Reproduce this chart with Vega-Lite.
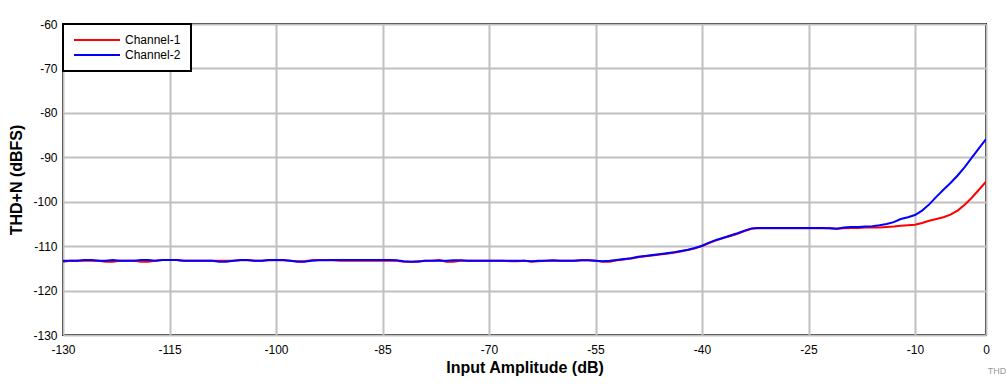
{
  "$schema": "https://vega.github.io/schema/vega-lite/v6.json",
  "autosize": {"type": "none"},
  "padding": {"left": 63, "top": 24, "right": 21, "bottom": 52},
  "width": 923,
  "height": 311,
  "background": "white",
  "title": {"text": "THD", "orient": "bottom", "anchor": "end", "fontSize": 9, "font": "Liberation Sans", "fontWeight": "normal", "color": "#999999", "dx": 17, "offset": -8},
  "config": {
    "font": "Liberation Sans",
    "view": {"stroke": "black", "strokeWidth": 2},
    "axis": {"labelFont": "Liberation Sans", "labelFontSize": 12, "labelColor": "black", "titleFont": "Liberation Sans", "titleFontSize": 16, "titleFontWeight": "bold", "titleColor": "black", "grid": true, "gridColor": "#c0c0c0", "gridWidth": 2, "ticks": false, "domain": false, "labelExpr": "'' + datum.value"},
    "legend": {"orient": "top-left", "offset": 0, "strokeColor": "black", "strokeWidth": 2, "fillColor": "white", "padding": 10, "symbolType": "M-1,0H8.2", "symbolStrokeWidth": 2, "symbolSize": 100, "labelOffset": 40, "labelFont": "Liberation Sans", "labelFontSize": 12, "labelColor": "black", "rowPadding": 3, "labelLimit": 200}
  },
  "data": {"values": [
    {"x": -130, "c1": -113.5, "c2": -113.3},
    {"x": -129, "c1": -113.3, "c2": -113.3},
    {"x": -128, "c1": -113.3, "c2": -113.3},
    {"x": -127, "c1": -113.3, "c2": -113.1},
    {"x": -126, "c1": -113.3, "c2": -113.1},
    {"x": -125, "c1": -113.3, "c2": -113.3},
    {"x": -124, "c1": -113.5, "c2": -113.3},
    {"x": -123, "c1": -113.5, "c2": -113.1},
    {"x": -122, "c1": -113.3, "c2": -113.3},
    {"x": -121, "c1": -113.3, "c2": -113.3},
    {"x": -120, "c1": -113.3, "c2": -113.3},
    {"x": -119, "c1": -113.5, "c2": -113.1},
    {"x": -118, "c1": -113.5, "c2": -113.1},
    {"x": -117, "c1": -113.3, "c2": -113.3},
    {"x": -116, "c1": -113.1, "c2": -113.1},
    {"x": -115, "c1": -113.1, "c2": -113.1},
    {"x": -114, "c1": -113.1, "c2": -113.1},
    {"x": -113, "c1": -113.3, "c2": -113.3},
    {"x": -112, "c1": -113.3, "c2": -113.3},
    {"x": -111, "c1": -113.3, "c2": -113.3},
    {"x": -110, "c1": -113.3, "c2": -113.3},
    {"x": -109, "c1": -113.3, "c2": -113.3},
    {"x": -108, "c1": -113.3, "c2": -113.5},
    {"x": -107, "c1": -113.3, "c2": -113.5},
    {"x": -106, "c1": -113.3, "c2": -113.3},
    {"x": -105, "c1": -113.2, "c2": -113.1},
    {"x": -104, "c1": -113.2, "c2": -113.1},
    {"x": -103, "c1": -113.3, "c2": -113.3},
    {"x": -102, "c1": -113.3, "c2": -113.3},
    {"x": -101, "c1": -113.2, "c2": -113.1},
    {"x": -100, "c1": -113.2, "c2": -113.1},
    {"x": -99, "c1": -113.2, "c2": -113.1},
    {"x": -98, "c1": -113.3, "c2": -113.3},
    {"x": -97, "c1": -113.4, "c2": -113.5},
    {"x": -96, "c1": -113.4, "c2": -113.5},
    {"x": -95, "c1": -113.2, "c2": -113.3},
    {"x": -94, "c1": -113.1, "c2": -113.2},
    {"x": -93, "c1": -113.1, "c2": -113.2},
    {"x": -92, "c1": -113.2, "c2": -113.1},
    {"x": -91, "c1": -113.3, "c2": -113.1},
    {"x": -90, "c1": -113.3, "c2": -113.1},
    {"x": -89, "c1": -113.3, "c2": -113.1},
    {"x": -88, "c1": -113.3, "c2": -113.1},
    {"x": -87, "c1": -113.3, "c2": -113.1},
    {"x": -86, "c1": -113.3, "c2": -113.1},
    {"x": -85, "c1": -113.3, "c2": -113.1},
    {"x": -84, "c1": -113.3, "c2": -113.1},
    {"x": -83, "c1": -113.3, "c2": -113.2},
    {"x": -82, "c1": -113.5, "c2": -113.4},
    {"x": -81, "c1": -113.5, "c2": -113.5},
    {"x": -80, "c1": -113.4, "c2": -113.5},
    {"x": -79, "c1": -113.3, "c2": -113.3},
    {"x": -78, "c1": -113.3, "c2": -113.3},
    {"x": -77, "c1": -113.1, "c2": -113.3},
    {"x": -76, "c1": -113.5, "c2": -113.3},
    {"x": -75, "c1": -113.5, "c2": -113.2},
    {"x": -74, "c1": -113.3, "c2": -113.2},
    {"x": -73, "c1": -113.3, "c2": -113.3},
    {"x": -72, "c1": -113.3, "c2": -113.3},
    {"x": -71, "c1": -113.3, "c2": -113.3},
    {"x": -70, "c1": -113.3, "c2": -113.3},
    {"x": -69, "c1": -113.3, "c2": -113.3},
    {"x": -68, "c1": -113.3, "c2": -113.3},
    {"x": -67, "c1": -113.4, "c2": -113.3},
    {"x": -66, "c1": -113.4, "c2": -113.3},
    {"x": -65, "c1": -113.3, "c2": -113.3},
    {"x": -64, "c1": -113.5, "c2": -113.4},
    {"x": -63, "c1": -113.4, "c2": -113.3},
    {"x": -62, "c1": -113.3, "c2": -113.3},
    {"x": -61, "c1": -113.3, "c2": -113.2},
    {"x": -60, "c1": -113.3, "c2": -113.3},
    {"x": -59, "c1": -113.3, "c2": -113.3},
    {"x": -58, "c1": -113.3, "c2": -113.3},
    {"x": -57, "c1": -113.2, "c2": -113.2},
    {"x": -56, "c1": -113.2, "c2": -113.2},
    {"x": -55, "c1": -113.3, "c2": -113.3},
    {"x": -54, "c1": -113.5, "c2": -113.4},
    {"x": -53, "c1": -113.5, "c2": -113.3},
    {"x": -52, "c1": -113.2, "c2": -113.1},
    {"x": -51, "c1": -113.0, "c2": -112.9},
    {"x": -50, "c1": -112.8, "c2": -112.7},
    {"x": -49, "c1": -112.5, "c2": -112.4},
    {"x": -48, "c1": -112.3, "c2": -112.2},
    {"x": -47, "c1": -112.1, "c2": -112.0},
    {"x": -46, "c1": -111.9, "c2": -111.8},
    {"x": -45, "c1": -111.7, "c2": -111.6},
    {"x": -44, "c1": -111.5, "c2": -111.4},
    {"x": -43, "c1": -111.2, "c2": -111.1},
    {"x": -42, "c1": -110.9, "c2": -110.8},
    {"x": -41, "c1": -110.5, "c2": -110.4},
    {"x": -40, "c1": -110.0, "c2": -109.9},
    {"x": -39, "c1": -109.3, "c2": -109.2},
    {"x": -38, "c1": -108.7, "c2": -108.6},
    {"x": -37, "c1": -108.2, "c2": -108.1},
    {"x": -36, "c1": -107.7, "c2": -107.6},
    {"x": -35, "c1": -107.2, "c2": -107.1},
    {"x": -34, "c1": -106.6, "c2": -106.5},
    {"x": -33, "c1": -106.1, "c2": -106.0},
    {"x": -32, "c1": -105.9, "c2": -105.9},
    {"x": -31, "c1": -106.0, "c2": -105.9},
    {"x": -30, "c1": -106.0, "c2": -105.9},
    {"x": -29, "c1": -106.0, "c2": -105.9},
    {"x": -28, "c1": -106.0, "c2": -105.9},
    {"x": -27, "c1": -106.0, "c2": -105.9},
    {"x": -26, "c1": -106.0, "c2": -105.9},
    {"x": -25, "c1": -106.0, "c2": -105.9},
    {"x": -24, "c1": -106.0, "c2": -105.9},
    {"x": -23, "c1": -106.0, "c2": -105.9},
    {"x": -22, "c1": -106.0, "c2": -106.0},
    {"x": -21, "c1": -106.1, "c2": -106.1},
    {"x": -20, "c1": -106.0, "c2": -105.8},
    {"x": -19, "c1": -105.9, "c2": -105.7},
    {"x": -18, "c1": -105.9, "c2": -105.7},
    {"x": -17, "c1": -105.8, "c2": -105.6},
    {"x": -16, "c1": -105.8, "c2": -105.5},
    {"x": -15, "c1": -105.8, "c2": -105.3},
    {"x": -14, "c1": -105.7, "c2": -105.0},
    {"x": -13, "c1": -105.6, "c2": -104.6},
    {"x": -12, "c1": -105.4, "c2": -103.9},
    {"x": -11, "c1": -105.3, "c2": -103.5},
    {"x": -10, "c1": -105.2, "c2": -103.0},
    {"x": -9, "c1": -104.8, "c2": -102.0},
    {"x": -8, "c1": -104.3, "c2": -100.6},
    {"x": -7, "c1": -103.9, "c2": -98.9},
    {"x": -6, "c1": -103.5, "c2": -97.3},
    {"x": -5, "c1": -102.9, "c2": -95.8},
    {"x": -4, "c1": -102.0, "c2": -94.1},
    {"x": -3, "c1": -100.7, "c2": -92.2},
    {"x": -2, "c1": -99.1, "c2": -90.1},
    {"x": -1, "c1": -97.3, "c2": -88.0},
    {"x": 0, "c1": -95.5, "c2": -85.9}
  ]},
  "transform": [
    {"fold": ["c1", "c2"], "as": ["key", "val"]},
    {"lookup": "key", "from": {"data": {"values": [{"key": "c1", "channel": "Channel-1"}, {"key": "c2", "channel": "Channel-2"}]}, "key": "key", "fields": ["channel"]}}
  ],
  "mark": {"type": "line", "strokeWidth": 2, "interpolate": "linear", "clip": true},
  "encoding": {
    "x": {"field": "x", "type": "quantitative", "scale": {"domain": [-130, 0], "nice": false, "zero": false},
      "axis": {"title": "Input Amplitude (dB)", "values": [-130, -115, -100, -85, -70, -55, -40, -25, -10, 0], "labelPadding": 9, "titlePadding": 4, "labelFlush": false}},
    "y": {"field": "val", "type": "quantitative", "scale": {"domain": [-130, -60], "nice": false, "zero": false},
      "axis": {"title": "THD+N (dBFS)", "values": [-130, -120, -110, -100, -90, -80, -70, -60], "labelPadding": 6, "titlePadding": 8}},
    "color": {"field": "channel", "type": "nominal", "scale": {"domain": ["Channel-1", "Channel-2"], "range": ["#ff0000", "#0000ff"]}, "legend": {"title": null}}
  }
}
